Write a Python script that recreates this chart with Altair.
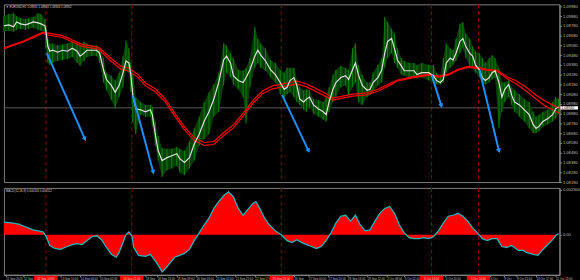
import math
import altair as alt
import pandas as pd

# ---------------- data ----------------
t = [0, 5, 10, 13, 17, 22, 25, 30, 35, 38,
     42, 43, 45, 47, 50, 55, 60, 65, 70, 75,
     78, 82, 85, 90, 95, 98, 102, 105, 110, 114,
     118, 122, 125, 128, 130, 132, 135, 140, 145, 150,
     152, 155, 158, 162, 167, 172, 177, 180, 185, 190,
     195, 200, 205, 210, 215, 220, 225, 228, 232, 235,
     240, 245, 248, 252, 257, 260, 263, 268, 273, 278,
     283, 287, 290, 293, 297, 300, 303, 307, 310, 313,
     317, 322, 327, 330, 333, 337, 340, 345, 350, 353,
     357, 360, 363, 367, 372, 375, 378, 383, 387, 390,
     393, 397, 400, 403, 407, 410, 415, 420, 423, 428,
     435, 440, 443, 447, 450, 453, 457, 460, 463, 467,
     470, 473, 477, 480, 483, 487, 490, 493, 497, 500,
     503, 507, 510, 513, 517, 520, 523, 528, 533, 538,
     542, 545, 548, 552, 557, 562, 565, 568]

close = [1.0978, 1.0979, 1.0977, 1.0982, 1.0980, 1.0979, 1.0980, 1.0982, 1.0981, 1.0980,
         1.0978, 1.0973, 1.0957, 1.0952, 1.0953, 1.0951, 1.0953, 1.0952, 1.0955, 1.0952,
         1.0947, 1.0950, 1.0953, 1.0953, 1.0953, 1.0950, 1.0933, 1.0923, 1.0917, 1.0910,
         1.0917, 1.0930, 1.0942, 1.0940, 1.0928, 1.0907, 1.0893, 1.0892, 1.0890, 1.0892,
         1.0887, 1.0867, 1.0850, 1.0840, 1.0843, 1.0845, 1.0847, 1.0842, 1.0838, 1.0843,
         1.0857, 1.0867, 1.0880, 1.0890, 1.0903, 1.0920, 1.0943, 1.0947, 1.0940, 1.0927,
         1.0922, 1.0920, 1.0925, 1.0933, 1.0947, 1.0953, 1.0948, 1.0942, 1.0933, 1.0928,
         1.0920, 1.0913, 1.0915, 1.0922, 1.0925, 1.0917, 1.0903, 1.0900, 1.0903, 1.0905,
         1.0897, 1.0893, 1.0890, 1.0887, 1.0900, 1.0913, 1.0920, 1.0925, 1.0927, 1.0923,
         1.0933, 1.0940, 1.0928, 1.0917, 1.0912, 1.0913, 1.0920, 1.0925, 1.0933, 1.0950,
         1.0962, 1.0965, 1.0955, 1.0943, 1.0937, 1.0932, 1.0932, 1.0932, 1.0928, 1.0930,
         1.0930, 1.0927, 1.0922, 1.0920, 1.0923, 1.0940, 1.0945, 1.0943, 1.0950, 1.0962,
         1.0965, 1.0957, 1.0950, 1.0947, 1.0938, 1.0933, 1.0925, 1.0922, 1.0925, 1.0930,
         1.0932, 1.0920, 1.0905, 1.0913, 1.0918, 1.0907, 1.0900, 1.0897, 1.0892, 1.0887,
         1.0877, 1.0873, 1.0875, 1.0880, 1.0883, 1.0887, 1.0893, 1.0895]

high = [1.0988, 1.0990, 1.0991, 1.0988, 1.0986, 1.0985, 1.0986, 1.0987, 1.0991, 1.0990,
        1.0985, 1.0978, 1.0965, 1.0960, 1.0960, 1.0958, 1.0959, 1.0960, 1.0962, 1.0960,
        1.0958, 1.0962, 1.0960, 1.0958, 1.0958, 1.0955, 1.0945, 1.0930, 1.0927, 1.0922,
        1.0930, 1.0947, 1.0963, 1.0955, 1.0940, 1.0930, 1.0905, 1.0900, 1.0897, 1.0897,
        1.0895, 1.0880, 1.0865, 1.0853, 1.0852, 1.0852, 1.0854, 1.0852, 1.0850, 1.0860,
        1.0873, 1.0885, 1.0900, 1.0910, 1.0918, 1.0930, 1.0960, 1.0958, 1.0950, 1.0945,
        1.0933, 1.0932, 1.0935, 1.0945, 1.0977, 1.0965, 1.0960, 1.0955, 1.0943, 1.0940,
        1.0933, 1.0930, 1.0935, 1.0935, 1.0935, 1.0923, 1.0915, 1.0912, 1.0913, 1.0912,
        1.0903, 1.0902, 1.0900, 1.0905, 1.0915, 1.0928, 1.0933, 1.0937, 1.0935, 1.0933,
        1.0955, 1.0960, 1.0938, 1.0928, 1.0920, 1.0920, 1.0930, 1.0938, 1.0945, 1.0987,
        1.0982, 1.0975, 1.0970, 1.0955, 1.0945, 1.0942, 1.0940, 1.0940, 1.0938, 1.0940,
        1.0938, 1.0938, 1.0930, 1.0928, 1.0945, 1.0960, 1.0955, 1.0953, 1.0965, 1.0980,
        1.0982, 1.0970, 1.0965, 1.0957, 1.0952, 1.0950, 1.0945, 1.0940, 1.0945, 1.0948,
        1.0945, 1.0935, 1.0920, 1.0920, 1.0922, 1.0915, 1.0912, 1.0908, 1.0903, 1.0900,
        1.0890, 1.0885, 1.0887, 1.0890, 1.0892, 1.0900, 1.0905, 1.0903]

low = [1.0972, 1.0973, 1.0972, 1.0974, 1.0975, 1.0974, 1.0975, 1.0976, 1.0974, 1.0973,
       1.0972, 1.0955, 1.0940, 1.0938, 1.0940, 1.0942, 1.0943, 1.0944, 1.0946, 1.0940,
       1.0937, 1.0942, 1.0946, 1.0947, 1.0947, 1.0940, 1.0920, 1.0912, 1.0902, 1.0893,
       1.0905, 1.0915, 1.0933, 1.0930, 1.0910, 1.0880, 1.0867, 1.0887, 1.0885, 1.0885,
       1.0875, 1.0855, 1.0840, 1.0823, 1.0830, 1.0832, 1.0835, 1.0828, 1.0825, 1.0832,
       1.0840, 1.0855, 1.0862, 1.0867, 1.0885, 1.0890, 1.0917, 1.0930, 1.0925, 1.0918,
       1.0913, 1.0905, 1.0878, 1.0915, 1.0935, 1.0940, 1.0935, 1.0932, 1.0925, 1.0920,
       1.0908, 1.0903, 1.0908, 1.0910, 1.0905, 1.0900, 1.0897, 1.0892, 1.0890, 1.0895,
       1.0888, 1.0885, 1.0882, 1.0880, 1.0890, 1.0900, 1.0905, 1.0915, 1.0917, 1.0907,
       1.0915, 1.0920, 1.0900, 1.0897, 1.0905, 1.0907, 1.0910, 1.0917, 1.0920, 1.0935,
       1.0945, 1.0950, 1.0940, 1.0935, 1.0928, 1.0927, 1.0925, 1.0925, 1.0924, 1.0925,
       1.0922, 1.0920, 1.0918, 1.0918, 1.0920, 1.0930, 1.0935, 1.0938, 1.0942, 1.0950,
       1.0955, 1.0945, 1.0937, 1.0935, 1.0930, 1.0925, 1.0920, 1.0918, 1.0920, 1.0923,
       1.0925, 1.0873, 1.0890, 1.0900, 1.0905, 1.0897, 1.0890, 1.0885, 1.0880, 1.0873,
       1.0868, 1.0868, 1.0870, 1.0875, 1.0877, 1.0880, 1.0883, 1.0888]

ma_t = [0, 20, 40, 43, 60, 80, 97, 110, 120, 128,
        137, 145, 155, 165, 175, 185, 195, 205, 215, 225,
        235, 245, 255, 265, 275, 290, 300, 310, 320, 330,
        337, 347, 357, 370, 383, 393, 403, 417, 435, 445,
        455, 465, 475, 485, 495, 505, 515, 525, 535, 545,
        555, 565, 569]
ma_upper = [1.09555, 1.09625, 1.09715, 1.0971, 1.0968, 1.0959, 1.0956, 1.09445, 1.09365, 1.09345,
            1.09285, 1.09195, 1.09135, 1.09035, 1.08885, 1.08745, 1.08635, 1.08585, 1.08595, 1.08685,
            1.08765, 1.08885, 1.09015, 1.09115, 1.09165, 1.09195, 1.09215, 1.09185, 1.09135, 1.09085,
            1.0904, 1.0906, 1.0908, 1.0909, 1.0913, 1.0918, 1.09225, 1.09255, 1.09285, 1.09265,
            1.09285, 1.09335, 1.09365, 1.09355, 1.09335, 1.09325, 1.0926, 1.09215, 1.0915, 1.0907,
            1.09005, 1.08955, 1.08935]
ma_lower = [1.09545, 1.09615, 1.09705, 1.0969, 1.0966, 1.0957, 1.0954, 1.09415, 1.09335, 1.09315,
            1.09255, 1.09165, 1.09105, 1.09005, 1.08855, 1.08715, 1.08605, 1.08555, 1.08565, 1.08655,
            1.08735, 1.08855, 1.08985, 1.09085, 1.09135, 1.09165, 1.09185, 1.09155, 1.09105, 1.09055,
            1.0902, 1.0904, 1.0906, 1.0907, 1.0911, 1.0916, 1.09215, 1.09245, 1.09275, 1.09255,
            1.09275, 1.09325, 1.09355, 1.09345, 1.09325, 1.09315, 1.0924, 1.09185, 1.0911, 1.0903,
            1.08955, 1.08905, 1.08885]

macd_t = [0, 10, 15, 20, 25, 30, 35, 40, 43, 47,
          52, 58, 65, 70, 75, 80, 85, 90, 95, 100,
          105, 110, 115, 118, 122, 125, 128, 131, 133, 138,
          145, 150, 153, 158, 162, 166, 170, 175, 180, 185,
          190, 195, 200, 205, 210, 215, 220, 225, 230, 235,
          240, 245, 250, 255, 258, 262, 267, 272, 278, 284,
          290, 295, 300, 305, 310, 315, 320, 325, 330, 335,
          340, 345, 350, 355, 360, 365, 370, 375, 380, 385,
          390, 395, 400, 405, 410, 415, 420, 425, 430, 435,
          440, 445, 450, 455, 460, 465, 470, 475, 480, 485,
          490, 495, 500, 505, 510, 515, 520, 527, 532, 535,
          542, 547, 552, 557, 562, 566, 568]
macd = [0.00065, 0.00060, 0.00055, 0.00045, 0.00035, 0.00025, 0.00020, 0.00015, -0.00005, -0.00055,
        -0.00070, -0.00075, -0.00060, -0.00050, -0.00045, -0.00050, -0.00030, -0.00010, -0.00005, -0.00025,
        -0.00065, -0.00100, -0.00115, -0.00090, -0.00040, 0.0, 0.00015, -0.00005, -0.00065, -0.00105,
        -0.00110, -0.00100, -0.00120, -0.00155, -0.00190, -0.00170, -0.00145, -0.00115, -0.00105, -0.00095,
        -0.00075, -0.00030, 0.00010, 0.00050, 0.00085, 0.00135, 0.00170, 0.00200, 0.00220, 0.00195,
        0.00135, 0.00100, 0.00130, 0.00160, 0.00170, 0.00135, 0.00085, 0.00050, 0.00020, 0.0,
        -0.00030, -0.00040, -0.00025, -0.00040, -0.00050, -0.00060, -0.00070, -0.00060, -0.00030, 0.00010,
        0.00060, 0.00095, 0.00100, 0.00070, 0.00100, 0.00050, 0.00020, 0.00025, 0.00070, 0.00110,
        0.00135, 0.00145, 0.00110, 0.00050, 0.00010, -0.00015, -0.00020, -0.00020, -0.00015, -0.00020,
        -0.00010, 0.00020, 0.00060, 0.00095, 0.00100, 0.00110, 0.00095, 0.00070, 0.00035, 0.00010,
        -0.00020, -0.00030, -0.00020, -0.00020, -0.00060, -0.00065, -0.00055, -0.00080, -0.00080, -0.00090,
        -0.00100, -0.00105, -0.00075, -0.00050, -0.00025, 0.0, 0.00005]

separators = [43, 131, 284, 438, 486]
separator_labels = ["12 Sep 19:00", "16 Sep 11:00", "25 Sep 20:00", "3 Oct 14:00", "5 Oct 14:00"]

arrow_t1 = [44, 132, 285, 438, 487]
arrow_p1 = [1.0950, 1.0907, 1.0907, 1.0928, 1.0933]
arrow_t2 = [83, 153, 312, 448, 507]
arrow_p2 = [1.0862, 1.0828, 1.0850, 1.0896, 1.0850]

current_price = 1.0894
header = "\u25bc EURUSD,H1  1.08951 1.08963 1.08944 1.08952"
macd_header = "MACD(12,26,9) 0.000105 0.000312"

price_ticks = [1.0818, 1.0828, 1.0838, 1.0848, 1.0858, 1.0868, 1.0878, 1.0888, 1.0898, 1.0908,
               1.0918, 1.0928, 1.0938, 1.0948, 1.0958, 1.0968, 1.0978, 1.0988, 1.0998]
macd_ticks = [0.0023, 0.0]

time_ticks = [2, 20, 58, 78, 98, 145, 157, 177, 197, 217, 237, 257, 297, 312, 332,
              352, 372, 392, 410, 452, 498, 512, 525, 545, 565]
time_labels = ["11 Sep 2023", "12 Sep", "13 Sep 10:00", "14 Sep 06:00", "15 Sep 02:00",
               "18 Sep", "18 Sep 13:00", "19 Sep 09:00", "20 Sep 05:00", "21 Sep 01:00",
               "21 Sep 21:00", "22 Sep 17:00", "26 Sep", "27 Sep 00:00", "27 Sep 20:00",
               "28 Sep 16:00", "29 Sep 12:00", "2 Oct 08:00", "3 Oct 02:00", "4 Oct 20:00",
               "6 Oct", "9 Oct", "9 Oct 21:00", "10 Oct 17:00", "11 Oct 13:00"]

# ---------------- layout ----------------
W = 569
H1 = 182
H2 = 89
X_DOM = [0, 569]
P_DOM = [1.0818, 1.1000]
M_DOM = [-0.00205, 0.0024]
FONT = "Liberation Sans"
FS = 4.2
FSX = 3.0
GREY = "#bdbdbd"

df = pd.DataFrame({"t": t, "close": close, "high": high, "low": low})
df_ma = pd.DataFrame({"t": ma_t, "up": ma_upper, "lo": ma_lower})
df_macd = pd.DataFrame({"t": macd_t, "macd": macd, "zero": [0.0] * len(macd_t)})
df_sep = pd.DataFrame({"t": separators, "label": separator_labels,
                       "l": [s - 12 for s in separators], "r": [s + 12 for s in separators]})

px_per_t = W / (X_DOM[1] - X_DOM[0])
px_per_p = H1 / (P_DOM[1] - P_DOM[0])
angles = []
for a, b, c, d in zip(arrow_t1, arrow_p1, arrow_t2, arrow_p2):
    dx = (c - a) * px_per_t
    dy = (b - d) * px_per_p
    angles.append((360 - math.degrees(math.atan2(dx, dy))) % 360)
df_arr = pd.DataFrame({"t1": arrow_t1, "p1": arrow_p1, "t2": arrow_t2, "p2": arrow_p2, "angle": angles})

df_cur = pd.DataFrame({"p": [current_price], "lo": [current_price - 0.00017],
                       "hi": [current_price + 0.00017], "label": [f"{current_price:.5f}"]})

xs = alt.Scale(domain=X_DOM, nice=False, zero=False)
ys = alt.Scale(domain=P_DOM, nice=False, zero=False)
ms = alt.Scale(domain=M_DOM, nice=False, zero=False)

yaxis = alt.Axis(orient="right", values=price_ticks, format=".5f", labelFontSize=FS,
                 labelFont=FONT, labelColor=GREY, tickColor="#8a8a8a", tickSize=2,
                 labelPadding=1, domainColor="#8a8a8a", grid=False, title=None,
                 labelOverlap=False)

X0 = alt.X("t:Q", scale=xs, axis=None)

vlines = alt.Chart(df_sep).mark_rule(color="#8b0000", strokeDash=[4, 3], strokeWidth=1).encode(x=X0)

hline = alt.Chart(df_cur).mark_rule(color="#5c5c5c", strokeWidth=1).encode(
    y=alt.Y("p:Q", scale=ys, axis=yaxis))

green_area = alt.Chart(df).mark_area(color="#053f05").encode(
    x=X0, y=alt.Y("low:Q", scale=ys, axis=yaxis), y2="high:Q")

green_rules = alt.Chart(df).mark_rule(color="#0f820f", strokeWidth=1).encode(
    x=X0, y=alt.Y("low:Q", scale=ys, axis=yaxis), y2="high:Q")

ma_up = alt.Chart(df_ma).mark_line(color="#ff0000", strokeWidth=1.2).encode(
    x=X0, y=alt.Y("up:Q", scale=ys, axis=yaxis))
ma_lo = alt.Chart(df_ma).mark_line(color="#ff0000", strokeWidth=1.2).encode(
    x=X0, y=alt.Y("lo:Q", scale=ys, axis=yaxis))

white = alt.Chart(df).mark_line(color="#e0e0e0", strokeWidth=1.2).encode(
    x=X0, y=alt.Y("close:Q", scale=ys, axis=yaxis))

arrows = alt.Chart(df_arr).mark_rule(color="#1e90ff", strokeWidth=2).encode(
    x=alt.X("t1:Q", scale=xs, axis=None), y=alt.Y("p1:Q", scale=ys, axis=yaxis),
    x2="t2:Q", y2="p2:Q")
heads = alt.Chart(df_arr).mark_point(shape="triangle-down", filled=True, color="#1e90ff",
                                      size=26, opacity=1).encode(
    x=alt.X("t2:Q", scale=xs, axis=None), y=alt.Y("p2:Q", scale=ys, axis=yaxis),
    angle=alt.Angle("angle:Q", scale=None))

price_box = alt.Chart(df_cur).mark_rect(color="#ffffff").encode(
    x=alt.value(W + 1), x2=alt.value(W + 19),
    y=alt.Y("lo:Q", scale=ys, axis=yaxis), y2="hi:Q")
price_txt = alt.Chart(df_cur).mark_text(align="left", baseline="middle", fontSize=3.6,
                                         font=FONT, color="#000000").encode(
    x=alt.value(W + 2), y=alt.Y("p:Q", scale=ys, axis=yaxis), text="label:N")

head_txt = alt.Chart(pd.DataFrame({"s": [header]})).mark_text(
    align="left", baseline="top", fontSize=3.0, font=FONT, color="#cfcfcf").encode(
    x=alt.value(2), y=alt.value(2), text="s:N")

top = alt.layer(vlines, hline, green_area, green_rules, ma_up, ma_lo, white,
                arrows, heads, price_box, price_txt, head_txt).properties(width=W, height=H1)

# ---------------- lower panel ----------------
lab_expr = ""
for v, s in zip(time_ticks, time_labels):
    lab_expr += f"datum.value == {v} ? '{s}' : "
lab_expr += "''"
xaxis = alt.Axis(values=time_ticks, labelExpr=lab_expr, labelAlign="left", labelBaseline="top",
                 labelFontSize=FSX, labelFont=FONT, labelColor=GREY, tickSize=2, labelPadding=1,
                 tickColor="#8a8a8a", domainColor="#8a8a8a", grid=False, title=None,
                 labelOverlap=False, labelFlush=False)
X1 = alt.X("t:Q", scale=xs, axis=xaxis)
maxis = alt.Axis(orient="right", values=macd_ticks,
                 labelExpr="datum.value == 0 ? '0.00' : format(datum.value, '.6f')",
                 labelFontSize=FS, labelFont=FONT, labelColor=GREY, tickColor="#8a8a8a",
                 tickSize=2, labelPadding=1, domainColor="#8a8a8a", grid=False, title=None)

m_area = alt.Chart(df_macd).mark_area(color="#ff0000").encode(
    x=X1, y=alt.Y("macd:Q", scale=ms, axis=maxis), y2="zero:Q")
m_line = alt.Chart(df_macd).mark_line(color="#22b8b8", strokeWidth=1.3).encode(
    x=X1, y=alt.Y("macd:Q", scale=ms, axis=maxis))
m_vlines = alt.Chart(df_sep).mark_rule(color="#8b0000", strokeDash=[4, 3], strokeWidth=1).encode(x=X1)
m_txt = alt.Chart(pd.DataFrame({"s": [macd_header]})).mark_text(
    align="left", baseline="top", fontSize=3.0, font=FONT, color="#cfcfcf").encode(
    x=alt.value(2), y=alt.value(2), text="s:N")
sep_box = alt.Chart(df_sep).mark_rect(color="#ff0000").encode(
    x=alt.X("l:Q", scale=xs, axis=xaxis), x2="r:Q", y=alt.value(H2 + 1), y2=alt.value(H2 + 7))
sep_txt = alt.Chart(df_sep).mark_text(baseline="top", fontSize=FSX, font=FONT,
                                       color="#ffd0d0").encode(
    x=X1, y=alt.value(H2 + 3), text="label:N")

bottom = alt.layer(m_vlines, m_area, m_line, m_txt, sep_box, sep_txt).properties(width=W, height=H2)

chart = alt.vconcat(top, bottom, spacing=2).properties(
    padding=0, background="#000000"
).configure_view(stroke="#808080", strokeWidth=1)

chart.save("out.html", embed_options={"renderer": "svg", "actions": False})
